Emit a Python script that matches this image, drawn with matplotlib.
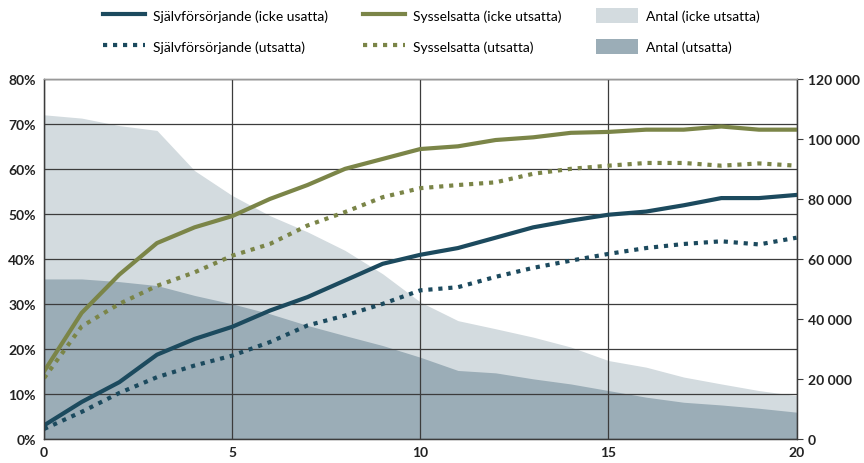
import numpy as np
import matplotlib.pyplot as plt
from matplotlib.ticker import FuncFormatter

plt.rcParams['font.family'] = ['Lato', 'DejaVu Sans']

# Years since arrival
years = list(range(21))

# Share (%) - left axis
sjalv_icke = [3, 8.2, 12.6, 18.7, 22.2, 24.9, 28.5, 31.5, 35.2, 38.9, 40.9,
              42.4, 44.7, 47.0, 48.5, 49.8, 50.5, 51.9, 53.5, 53.5, 54.2]
sjalv_uts = [2.2, 6.0, 10.2, 13.7, 16.3, 18.5, 21.5, 25.2, 27.4, 30.0, 33.0,
             33.7, 36.0, 38.0, 39.6, 41.1, 42.4, 43.3, 43.9, 43.2, 44.7]
syss_icke = [15.0, 28.0, 36.5, 43.5, 47.0, 49.5, 53.3, 56.4, 60.0, 62.2, 64.4,
             65.0, 66.4, 67.0, 68.0, 68.2, 68.7, 68.7, 69.4, 68.7, 68.7]
syss_uts = [13.5, 25.0, 30.0, 34.0, 37.0, 40.7, 43.3, 47.4, 50.4, 53.7, 55.7,
            56.4, 57.0, 58.9, 60.0, 60.7, 61.3, 61.3, 60.7, 61.2, 60.7]

# Number of people - right axis
antal_icke = [108000, 106900, 104400, 102800, 89400, 81100, 74400, 69000, 62800,
              55000, 45600, 39400, 36700, 33900, 30600, 26100, 23900, 20600,
              18300, 16100, 14400]
antal_uts = [53300, 53300, 52400, 51100, 47800, 45000, 41700, 37800, 34400,
             31100, 27200, 22800, 22000, 20000, 18300, 16100, 13900, 12200,
             11300, 10200, 8900]

navy = '#1c4a5e'
olive = '#7b8548'
light = '#d3dbdf'
slate = '#9badb7'
grid_c = '#3c3c3c'

fig, ax = plt.subplots(figsize=(8.64, 4.64), dpi=100)
fig.subplots_adjust(left=0.051, right=0.922, top=0.828, bottom=0.052)
ax2 = ax.twinx()

a1 = ax2.fill_between(years, antal_icke, color=light, lw=0, label='Antal (icke utsatta)')
a2 = ax2.fill_between(years, antal_uts, color=slate, lw=0, label='Antal (utsatta)')
ax2.set_ylim(0, 120000)
ax2.set_yticks(range(0, 120001, 20000))
ax2.yaxis.set_major_formatter(FuncFormatter(lambda v, p: f'{int(v):,}'.replace(',', ' ')))

ax.set_zorder(ax2.get_zorder() + 1)
ax.patch.set_visible(False)

dot = (0, (1, 1.4))
l1, = ax.plot(years, sjalv_icke, color=navy, lw=3, label='Självförsörjande (icke usatta)')
l2, = ax.plot(years, sjalv_uts, color=navy, lw=3, ls=dot, label='Självförsörjande (utsatta)')
l3, = ax.plot(years, syss_icke, color=olive, lw=3, label='Sysselsatta (icke utsatta)')
l4, = ax.plot(years, syss_uts, color=olive, lw=3, ls=dot, label='Sysselsatta (utsatta)')

ax.set_xlim(0, 20)
ax.set_ylim(0, 80)
ax.set_xticks([0, 5, 10, 15, 20])
ax.set_yticks(range(0, 81, 10))
ax.yaxis.set_major_formatter(FuncFormatter(lambda v, p: f'{int(v)}%'))
ax.grid(True, color=grid_c, lw=0.9)
ax.set_axisbelow(True)

for a in (ax, ax2):
    for s in a.spines.values():
        s.set_color(grid_c)
        s.set_linewidth(0.9)
ax.spines['top'].set_color('#999999')
ax.tick_params(axis='both', length=0, labelsize=10, pad=6)
ax.tick_params(axis='x', pad=5)
ax2.tick_params(axis='y', length=4, color=grid_c, labelsize=10, pad=4)
for lab in ax.get_xticklabels() + ax.get_yticklabels() + ax2.get_yticklabels():
    lab.set_fontweight('bold')
    lab.set_color('#222222')

handles = [l1, l2, l3, l4, a1, a2]
fig.legend(handles, [h.get_label() for h in handles], ncol=3, frameon=False,
           loc='upper left', bbox_to_anchor=(0.105, 1.008), fontsize=10,
           handlelength=3, handleheight=1.3, columnspacing=2.5,
           handletextpad=0.6, labelspacing=1.15)

fig.savefig('out.png', dpi=100)
